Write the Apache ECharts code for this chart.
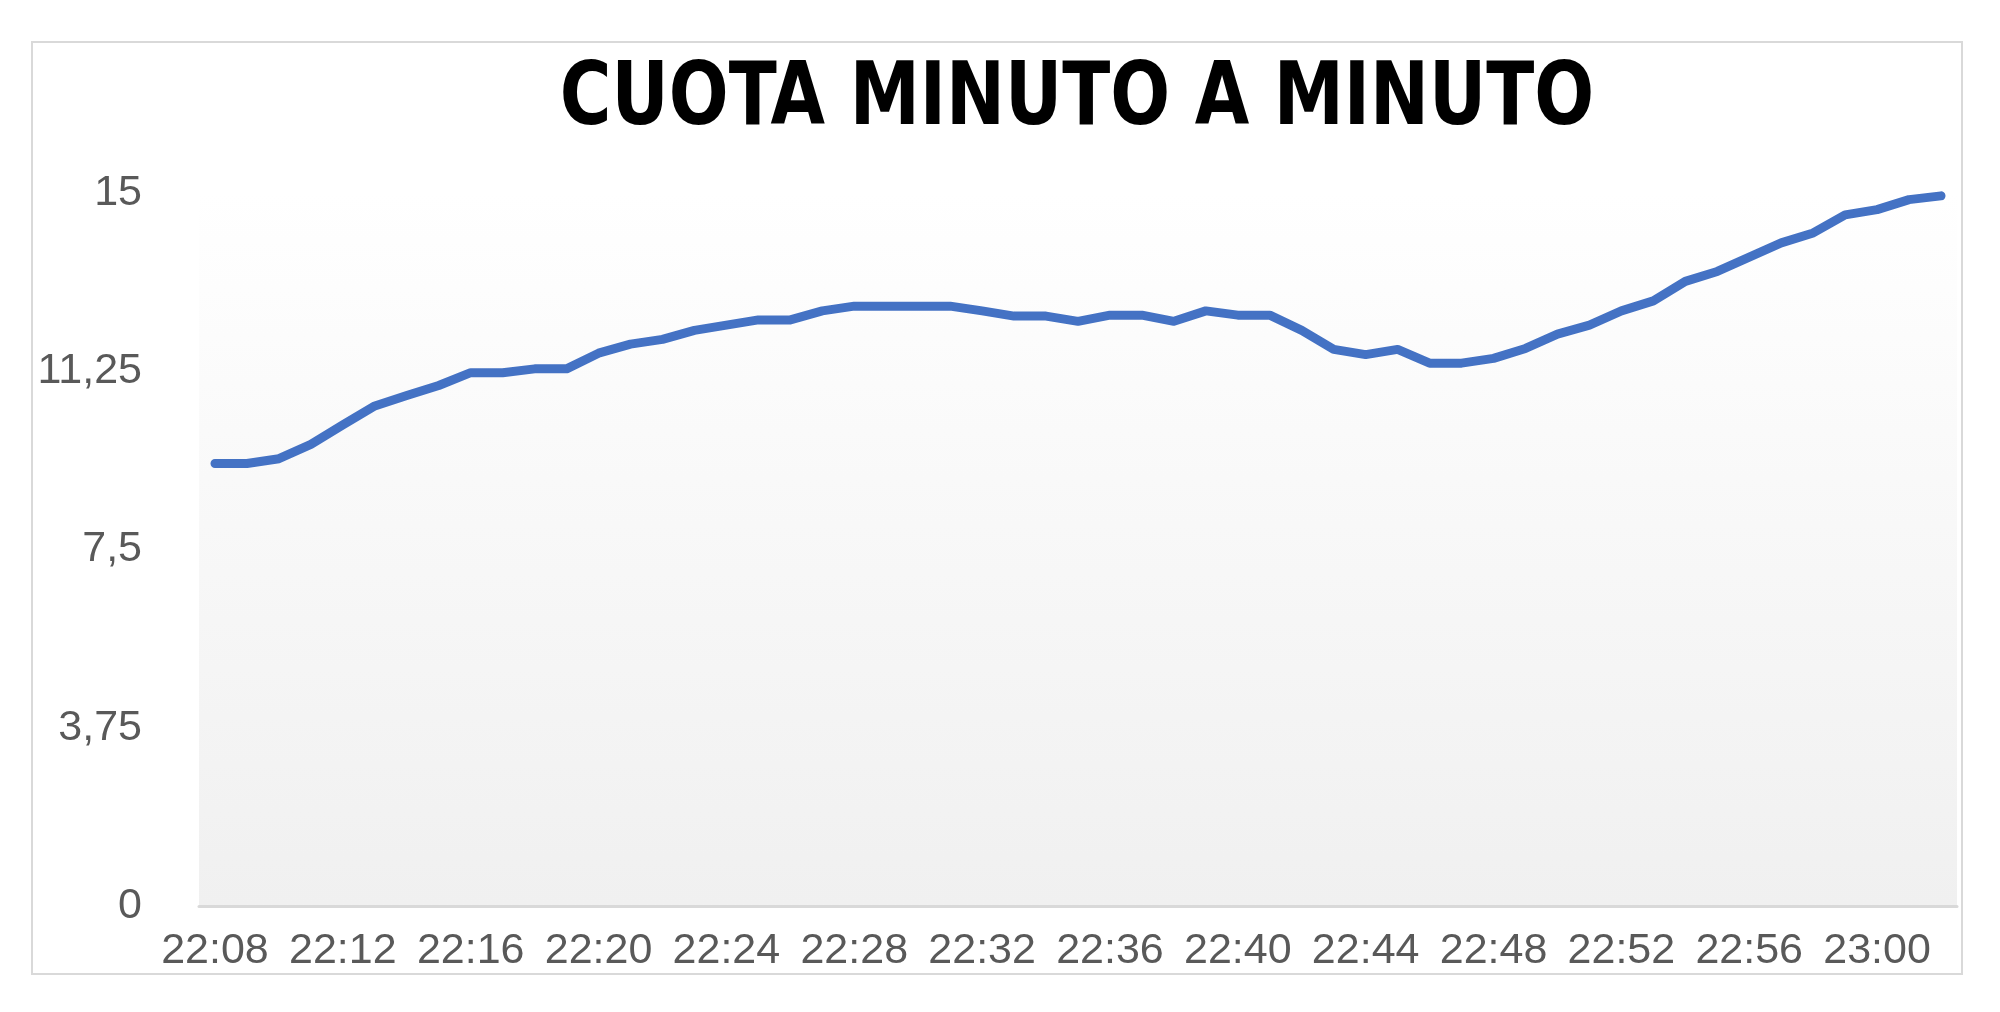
<!DOCTYPE html>
<html>
<head>
<meta charset="utf-8">
<script src="https://cdn.jsdelivr.net/npm/echarts@6/dist/echarts.min.js"></script>
<style>
html,body{margin:0;padding:0;background:#ffffff;}
#chart{width:2000px;height:1012px;}
</style>
</head>
<body>
<div id="chart"></div>
<script>
var titleText = 'CUOTA MINUTO A MINUTO';
var categories = ['22:08','22:09','22:10','22:11','22:12','22:13','22:14','22:15','22:16','22:17',
  '22:18','22:19','22:20','22:21','22:22','22:23','22:24','22:25','22:26','22:27',
  '22:28','22:29','22:30','22:31','22:32','22:33','22:34','22:35','22:36','22:37',
  '22:38','22:39','22:40','22:41','22:42','22:43','22:44','22:45','22:46','22:47',
  '22:48','22:49','22:50','22:51','22:52','22:53','22:54','22:55','22:56','22:57',
  '22:58','22:59','23:00','23:01','23:02'];
var shareValues = [9.31, 9.31, 9.41, 9.71, 10.12, 10.52, 10.74, 10.95, 11.22, 11.22,
  11.30, 11.30, 11.63, 11.82, 11.92, 12.11, 12.22, 12.33, 12.33, 12.52,
  12.62, 12.62, 12.62, 12.62, 12.52, 12.41, 12.41, 12.30, 12.43, 12.43,
  12.30, 12.52, 12.43, 12.43, 12.11, 11.71, 11.60, 11.71, 11.42, 11.42,
  11.52, 11.73, 12.03, 12.22, 12.52, 12.73, 13.14, 13.35, 13.65, 13.95,
  14.16, 14.54, 14.65, 14.86, 14.94];
var yMin = 0, yMax = 15, yStep = 3.75;

var chart = echarts.init(document.getElementById('chart'));
chart.setOption({
  animation: false,
  backgroundColor: '#ffffff',
  graphic: [{
    type: 'rect',
    shape: {x: 32, y: 42, width: 1930, height: 932},
    style: {fill: 'none', stroke: '#d9d9d9', lineWidth: 2},
    z: -1
  }, {
    type: 'text',
    x: 1077,
    y: 101,
    scaleX: 0.89,
    style: {
      text: titleText,
      fontFamily: "'DejaVu Sans Condensed', 'DejaVu Sans', sans-serif",
      fontWeight: 'bold',
      fontSize: 88,
      fill: '#000000',
      textAlign: 'center',
      textVerticalAlign: 'middle'
    }
  }],
  grid: {
    left: 199, right: 2000 - 1957, top: 193, bottom: 1012 - 906,
    show: true,
    borderWidth: 0,
    backgroundColor: new echarts.graphic.LinearGradient(0, 0, 0, 1, [
      {offset: 0, color: '#ffffff'},
      {offset: 1, color: '#f0f0f0'}
    ])
  },
  xAxis: {
    type: 'category',
    data: categories,
    boundaryGap: true,
    axisLine: {show: true, lineStyle: {color: '#d9d9d9', width: 3}},
    axisTick: {show: false},
    axisLabel: {
      interval: 3,
      margin: 24,
      fontFamily: "'Liberation Sans', Arial, sans-serif",
      fontSize: 43,
      color: '#595959'
    },
    splitLine: {show: false}
  },
  yAxis: {
    type: 'value',
    min: yMin,
    max: yMax,
    interval: yStep,
    axisLine: {show: false},
    axisTick: {show: false},
    splitLine: {show: false},
    axisLabel: {
      margin: 57,
      fontFamily: "'Liberation Sans', Arial, sans-serif",
      fontSize: 43,
      color: '#595959',
      formatter: function (v) { return String(v).replace('.', ','); }
    }
  },
  series: [{
    type: 'line',
    data: shareValues,
    showSymbol: false,
    symbol: 'none',
    smooth: false,
    lineStyle: {color: '#4472c4', width: 9, cap: 'round', join: 'round'}
  }]
});
</script>
</body>
</html>
